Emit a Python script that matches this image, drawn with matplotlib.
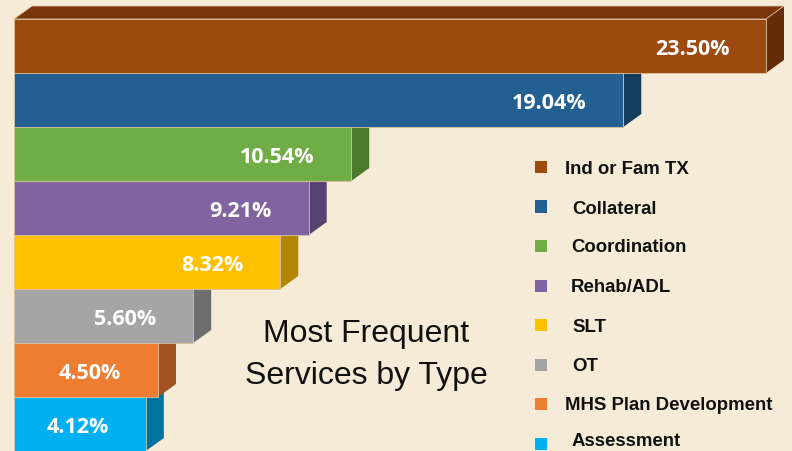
import numpy as np
import matplotlib
matplotlib.use("Agg")
import matplotlib.pyplot as plt
from matplotlib.patches import Polygon, Rectangle

services = ["Ind or Fam TX", "Collateral", "Coordination", "Rehab/ADL",
            "SLT", "OT", "MHS Plan Development", "Assessment"]
shares = [23.50, 19.04, 10.54, 9.21, 8.32, 5.60, 4.50, 4.12]
labels = ["23.50%", "19.04%", "10.54%", "9.21%", "8.32%", "5.60%", "4.50%", "4.12%"]

front_colors = ["#9C4A10", "#245F91", "#70AD47", "#8064A2",
                "#FFC000", "#A5A5A5", "#ED7D31", "#00B0F0"]
side_colors = ["#662C08", "#173D5E", "#4E7A30", "#584472",
               "#B38600", "#6E6E6E", "#A2521E", "#00739E"]
top_color = "#7A360A"
bg = "#F5EBD7"

W, H = 792, 452
fig = plt.figure(figsize=(W / 100, H / 100), dpi=100, facecolor=bg)
ax = fig.add_axes([0, 0, 1, 1])
ax.set_facecolor(bg)

px_x = 32.0   # pixels per percent
px_y = 54.0   # pixels per bar
ax.set_xlim(-14 / px_x, (W - 14) / px_x)
ax.set_ylim(-0.5 + (H - 20) / px_y, -0.5 - 20 / px_y)
ax.axis("off")

dx = 18 / px_x
dy = 13 / px_y
n = len(shares)
ypos = np.arange(n)

# draw from bottom to top so upper bars cover the hidden faces
for i in reversed(range(n)):
    v = shares[i]
    y0, y1 = ypos[i] - 0.5, ypos[i] + 0.5
    side = Polygon([(v, y0), (v + dx, y0 - dy), (v + dx, y1 - dy), (v, y1)],
                   closed=True, facecolor=side_colors[i], edgecolor="none", zorder=2)
    ax.add_patch(side)
    if i == 0:
        top = Polygon([(0, y0), (dx, y0 - dy), (v + dx, y0 - dy), (v, y0)],
                      closed=True, facecolor=top_color, edgecolor="#D9C29C",
                      linewidth=0.6, zorder=2)
        ax.add_patch(top)
    ax.barh(ypos[i], v, height=1.0, color=front_colors[i],
            edgecolor="#D9C29C", linewidth=0.6, zorder=3)
    ax.text(v - 1.15, ypos[i] + 0.05, labels[i], ha="right", va="center",
            color="white", fontsize=15.5, fontweight="bold",
            family="Open Sans", zorder=4)

# title in the middle of the plot area
fig.text(366 / W, 1 - 355 / H, "Most Frequent\nServices by Type",
         ha="center", va="center", fontsize=23, family="Liberation Sans",
         linespacing=1.55, color="#111111")

# hand-placed legend
leg_y0, leg_step = 168, 39.5
legend_indent = [0, 7, 6, 6, 7, 7, 0, 7]
legend_nudge = [2, 2, 1, 1, 2, 1, 1, -3]
for i, name in enumerate(services):
    yc = leg_y0 + leg_step * i
    fig.patches.append(Rectangle((535 / W, 1 - (yc + 6) / H), 12 / W, 12 / H,
                                 transform=fig.transFigure,
                                 facecolor=front_colors[i], edgecolor="none"))
    fig.text((565 + legend_indent[i]) / W, 1 - (yc + legend_nudge[i]) / H, name,
             ha="left", va="center", fontsize=13.4, fontweight="bold",
             family="Liberation Sans", color="#111111")

fig.savefig("out.png", dpi=100, facecolor=bg)
